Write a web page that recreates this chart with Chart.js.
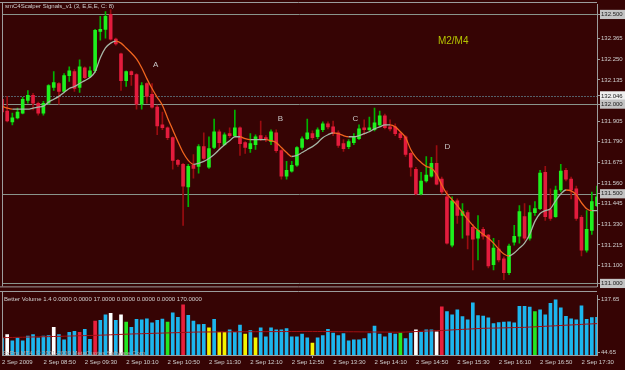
<!DOCTYPE html>
<html><head><meta charset="utf-8">
<script src="https://cdn.jsdelivr.net/npm/chart.js@4.4.0/dist/chart.umd.min.js"></script>
<style>
html,body{margin:0;padding:0;background:#360404;width:625px;height:370px;overflow:hidden}
#wrap{position:relative;width:625px;height:370px;background:#360404}
#c1{position:absolute;left:0;top:0}
#c2{position:absolute;left:0;top:291px}
</style></head><body>
<div id="wrap"><canvas id="c1" width="625" height="291"></canvas><canvas id="c2" width="625" height="79"></canvas></div>
<script>
// ---- categories: 5-minute bars, 2 Sep 2009 08:10 .. 17:45
const barTimes = [];
for (let m = 8 * 60 + 10; m <= 17 * 60 + 45; m += 5) {
  barTimes.push(String(Math.floor(m / 60)).padStart(2, '0') + ':' + String(m % 60).padStart(2, '0'));
}
const dateLabel = '2 Sep';
const firstLabel = '2 Sep 2009';
const labelEvery = 8;

// ---- price series
const opens = [132.027,131.961,131.901,131.923,131.950,132.021,132.049,132.005,131.950,132.005,
132.093,132.115,132.071,132.159,132.181,132.093,132.203,132.153,132.186,132.406,
132.417,132.500,132.362,132.280,132.131,132.181,132.164,132.000,132.115,132.054,
131.983,131.884,131.868,131.813,131.686,131.664,131.538,131.659,131.653,131.763,
131.648,131.758,131.846,131.774,131.835,131.824,131.868,131.785,131.752,131.774,
131.824,131.813,131.791,131.840,131.741,131.598,131.626,131.659,131.758,131.807,
131.835,131.818,131.857,131.890,131.873,131.840,131.780,131.763,131.785,131.807,
131.868,131.857,131.857,131.884,131.934,131.873,131.873,131.835,131.818,131.725,
131.637,131.499,131.571,131.598,131.670,131.582,131.483,131.214,131.461,131.379,
131.395,131.313,131.252,131.302,131.269,131.104,131.192,131.137,131.060,131.230,
131.263,131.373,131.252,131.395,131.417,131.620,131.412,131.373,131.521,131.631,
131.582,131.527,131.368,131.186,131.296,131.434];
const highs = [132.049,132.043,131.950,131.978,132.038,132.076,132.060,132.011,132.016,132.109,
132.181,132.120,132.170,132.208,132.192,132.247,132.208,132.208,132.417,132.489,
132.516,132.527,132.368,132.285,132.186,132.186,132.170,132.120,132.120,132.115,
131.994,131.956,131.873,131.818,131.692,131.670,131.664,131.719,131.774,131.840,
131.818,131.917,131.857,131.840,131.868,131.967,131.873,131.791,131.835,131.829,
131.906,131.824,131.857,131.857,131.747,131.681,131.681,131.763,131.818,131.917,
131.851,131.868,131.901,131.901,131.906,131.851,131.802,131.802,131.835,131.884,
131.912,131.928,131.978,131.961,131.945,131.912,131.890,131.846,131.824,131.730,
131.648,131.620,131.708,131.703,131.769,131.593,131.516,131.483,131.472,131.445,
131.406,131.329,131.379,131.313,131.274,131.252,131.241,131.148,131.219,131.324,
131.434,131.445,131.434,131.456,131.631,131.653,131.527,131.543,131.664,131.642,
131.593,131.543,131.379,131.406,131.510,131.543];
const lows = [131.928,131.901,131.884,131.917,131.945,132.005,131.967,131.939,131.939,132.000,
132.076,132.000,132.065,132.126,132.071,132.065,132.142,132.148,132.175,132.357,
132.368,132.357,132.329,132.076,132.098,132.104,131.972,131.972,132.005,131.978,
131.829,131.857,131.802,131.637,131.653,131.324,131.428,131.587,131.615,131.692,
131.642,131.752,131.747,131.769,131.813,131.818,131.714,131.725,131.730,131.747,
131.796,131.791,131.774,131.730,131.582,131.582,131.620,131.653,131.747,131.802,
131.802,131.807,131.846,131.862,131.824,131.758,131.736,131.752,131.774,131.802,
131.829,131.851,131.851,131.879,131.862,131.851,131.824,131.802,131.708,131.598,
131.494,131.494,131.565,131.593,131.549,131.499,131.219,131.203,131.335,131.252,
131.192,131.076,131.131,131.247,131.087,131.076,131.120,131.021,131.049,131.214,
131.225,131.241,131.241,131.379,131.412,131.351,131.351,131.368,131.510,131.571,
131.472,131.351,131.153,131.175,131.274,131.428];
const closes = [131.956,131.906,131.923,131.956,132.027,132.049,132.005,131.950,132.005,132.104,
132.120,132.071,132.159,132.186,132.087,132.208,132.148,132.186,132.412,132.417,
132.489,132.362,132.335,132.131,132.181,132.164,132.000,132.104,132.043,131.983,
131.879,131.868,131.813,131.686,131.664,131.543,131.653,131.642,131.763,131.697,
131.752,131.846,131.785,131.829,131.824,131.868,131.780,131.758,131.780,131.818,
131.807,131.802,131.846,131.741,131.598,131.631,131.659,131.758,131.807,131.840,
131.813,131.857,131.890,131.873,131.835,131.769,131.752,131.791,131.818,131.862,
131.857,131.868,131.895,131.934,131.868,131.862,131.835,131.813,131.719,131.648,
131.499,131.571,131.604,131.670,131.554,131.510,131.225,131.461,131.379,131.401,
131.269,131.247,131.296,131.263,131.098,131.197,131.131,131.060,131.208,131.263,
131.401,131.252,131.395,131.417,131.615,131.373,131.362,131.521,131.626,131.582,
131.521,131.362,131.186,131.302,131.456,131.483];
// smoothed signal line
const signalLine = [131.989,131.978,131.972,131.972,131.972,131.972,131.978,131.983,131.989,132.011,
132.027,132.043,132.065,132.087,132.098,132.115,132.131,132.148,132.181,132.258,
132.313,132.340,132.351,132.340,132.313,132.285,132.252,132.203,132.142,132.087,
132.038,131.994,131.923,131.857,131.791,131.730,131.686,131.664,131.670,131.681,
131.697,131.719,131.747,131.774,131.796,131.818,131.818,131.807,131.802,131.802,
131.802,131.802,131.796,131.785,131.758,131.730,131.708,131.714,131.730,131.747,
131.763,131.785,131.813,131.829,131.840,131.835,131.824,131.818,131.818,131.824,
131.835,131.846,131.862,131.873,131.884,131.884,131.873,131.846,131.813,131.747,
131.703,131.675,131.653,131.642,131.609,131.549,131.499,131.467,131.434,131.395,
131.357,131.324,131.296,131.274,131.252,131.225,131.192,131.164,131.153,131.170,
131.197,131.225,131.274,131.346,131.390,131.406,131.417,131.461,131.499,131.521,
131.516,131.494,131.450,131.417,131.406,131.406];

// ---- volume series
const volumes = [70.0,76.5,65.4,70.9,65.4,73.7,76.5,70.9,73.7,74.9,
89.2,76.5,67.0,80.4,82.0,80.4,85.8,68.2,100.3,101.4,
111.4,114.0,101.4,111.4,98.6,89.2,103.1,102.4,104.1,97.0,
101.4,103.6,98.6,114.7,106.9,129.0,110.2,100.3,94.1,94.5,
88.3,103.1,80.4,80.4,84.8,80.4,93.1,77.5,83.7,70.9,
88.2,72.5,88.2,84.8,84.8,87.0,72.5,72.5,77.5,70.9,
61.6,70.9,74.9,85.8,79.2,74.9,78.2,65.4,67.0,67.0,
69.2,78.2,91.5,77.5,72.5,79.2,77.5,79.2,69.2,79.2,
84.8,80.4,84.8,84.8,81.5,125.2,116.9,111.4,120.2,108.1,
102.4,132.3,109.7,109.1,105.8,95.8,97.5,98.6,99.1,97.0,
126.3,126.3,124.7,116.9,120.2,111.4,131.3,137.65,123.5,108.6,
104.1,102.4,126.9,103.1,106.4,106.9];
// N normal, W white, R red, G green, Y yellow (Better Volume classes)
const volClass = ('NWNNNNNNNN'+'WNNNNRNNRN'+'NWNWGNNNNN'+'NNGNNRNNNN'+'YNYYNNNYNY'+
  'NNNNNNNNNN'+'YNNNNNNNNN'+'NNNNNNNGNN'+'WNNNWRNNNN'+'NNNNNNNNNN'+'NNNGNNNNNN'+'NNNNNN').split('');
const volAverage = [71.0,71.2,71.4,71.6,71.8,72.1,72.3,72.5,72.7,72.9,
73.1,73.3,73.6,73.9,74.1,74.4,74.6,74.9,75.1,75.4,
75.7,76.1,76.4,76.8,77.1,77.5,77.8,78.0,78.3,78.6,
78.9,79.1,79.4,79.7,79.9,80.2,80.5,80.7,81.0,81.0,
81.1,81.1,81.2,81.2,81.3,81.3,81.4,81.4,81.5,81.5,
81.6,81.6,81.7,81.7,81.8,81.8,81.9,81.9,82.0,82.0,
82.0,81.9,81.8,81.8,81.7,81.6,81.5,81.4,81.4,81.3,
81.2,81.1,81.0,81.0,80.9,80.8,80.7,80.6,81.0,81.4,
81.8,82.2,82.6,83.0,83.3,83.7,84.2,84.7,85.2,85.6,
86.1,86.6,87.0,87.5,87.7,87.9,88.1,88.3,88.5,88.8,
89.0,89.2,89.7,90.1,90.6,91.1,91.5,92.0,92.5,93.0,
93.4,93.9,94.4,94.9,95.3,95.8];

// ---- axis ticks & levels
const priceTicks = [132.5,132.365,132.25,132.135,132.046,132.0,131.905,131.79,131.675,131.56,131.5,131.445,131.33,131.215,131.1,131.0];
const boxedTicks = [132.5,132.046,132.0,131.5,131.0];
const levelLines = [132.5,132.0,131.5,131.0];
const dottedLevel = 132.046;
const volTicks = [137.65,44.65];
const markers = [
  {text:'A', i:29.7, p:132.217},
  {text:'B', i:53.8, p:131.917},
  {text:'C', i:68.3, p:131.917},
  {text:'D', i:86.1, p:131.763}
];
const periodNote = {text:'M2/M4', i:87.2, p:132.348};
const mainTitle = 'smC4Scalper Signals_v1 (3, E,E,E, C: 8)';
const volTitle = 'Better Volume 1.4 0.0000 0.0000 17.0000 0.0000 0.0000 0.0000 170.0000';
const copyright = 'FxPro MT4, \u00a9 2001-2009 MetaQuotes Software Corp.';

// ---- styles
const BG = '#360404';
const FRAME = '#9c9c9c';
const TXT = '#d0d0d0';
const FONT = 'Liberation Sans, Arial, sans-serif';
const bullBody = '#1ef01e', bearBody = '#e31c3d';
const bullWick = '#00b400', bearWick = '#9a0c10';
const volColors = {N:'#1cb6ee', W:'#ffffff', R:'#e8203c', G:'#22e822', Y:'#f4f400'};

const isBull = i => closes[i] >= opens[i];

function hline(ctx, x1, x2, y) { ctx.beginPath(); ctx.moveTo(x1, y); ctx.lineTo(x2, y); ctx.stroke(); }
function vline(ctx, x, y1, y2) { ctx.beginPath(); ctx.moveTo(x, y1); ctx.lineTo(x, y2); ctx.stroke(); }

const mainOverlay = {
  id: 'mainOverlay',
  beforeDatasetsDraw(chart) {
    const {ctx, chartArea: a, scales: {y}} = chart;
    ctx.save();
    ctx.lineWidth = 1;
    ctx.strokeStyle = '#8a948c';
    levelLines.forEach(v => hline(ctx, a.left, a.right, Math.round(y.getPixelForValue(v)) + 0.5));
    ctx.strokeStyle = '#55606a';
    ctx.setLineDash([2, 1]);
    hline(ctx, a.left, a.right, Math.round(y.getPixelForValue(dottedLevel)) + 0.5);
    ctx.restore();
  },
  afterDraw(chart) {
    const {ctx, chartArea: a, scales: {x, y}} = chart;
    ctx.save();
    ctx.strokeStyle = FRAME; ctx.lineWidth = 1;
    hline(ctx, 0, a.right, 2.5);
    vline(ctx, 2.5, 2, a.bottom);
    hline(ctx, 0, a.right, a.bottom + 0.5);
    ctx.fillStyle = TXT; ctx.textBaseline = 'middle'; ctx.textAlign = 'left';
    ctx.font = '6px ' + FONT;
    ctx.fillText(mainTitle, 5, 6);
    ctx.textAlign = 'center';
    ctx.font = '8px ' + FONT; ctx.fillStyle = '#c8c8c8';
    markers.forEach(m => ctx.fillText(m.text, x.getPixelForValue(m.i), y.getPixelForValue(m.p)));
    ctx.font = '10px ' + FONT; ctx.fillStyle = '#b4c400';
    ctx.fillText(periodNote.text, x.getPixelForValue(periodNote.i), y.getPixelForValue(periodNote.p));
    ctx.restore();
  }
};

const volOverlay = {
  id: 'volOverlay',
  afterDraw(chart) {
    const {ctx, chartArea: a} = chart;
    ctx.save();
    ctx.strokeStyle = FRAME; ctx.lineWidth = 1;
    hline(ctx, 0, a.right, 0.5);
    vline(ctx, 2.5, 0, a.bottom);
    ctx.fillStyle = TXT; ctx.textBaseline = 'middle'; ctx.textAlign = 'left';
    ctx.font = '6px ' + FONT;
    ctx.fillText(volTitle, 4, 8);
    ctx.fillStyle = '#b0b0b0';
    ctx.fillText(copyright, 3, 62);
    ctx.restore();
  }
};

Chart.defaults.font.family = FONT;
Chart.defaults.font.size = 6;
Chart.defaults.color = TXT;

new Chart(document.getElementById('c1'), {
  type: 'bar',
  data: {
    labels: barTimes,
    datasets: [
      { type: 'line', data: signalLine, order: -1, borderWidth: 1.3, pointRadius: 0,
        cubicInterpolationMode: 'monotone',
        segment: { borderColor: c => c.p1.parsed.y >= c.p0.parsed.y ? '#a6b6a6' : '#f0641e' } },
      { data: opens.map((o, i) => [o, closes[i]]), order: 0, grouped: false, barThickness: 3, minBarLength: 1,
        backgroundColor: opens.map((o, i) => isBull(i) ? bullBody : bearBody), borderWidth: 0 },
      { data: lows.map((l, i) => [l, highs[i]]), order: 1, grouped: false, barThickness: 1,
        backgroundColor: lows.map((l, i) => isBull(i) ? bullWick : bearWick), borderWidth: 0 }
    ]
  },
  options: {
    responsive: false, animation: false, devicePixelRatio: 1, events: [],
    layout: { padding: { left: 2, top: 3, bottom: 2, right: 0 } },
    plugins: { legend: { display: false }, tooltip: { enabled: false } },
    scales: {
      x: { type: 'category', offset: false, display: false },
      y: {
        position: 'right', min: 130.9835, max: 132.5549,
        afterBuildTicks: s => { s.ticks = priceTicks.map(v => ({ value: v })); },
        afterFit: s => { s.width = 28; },
        grid: { drawOnChartArea: false, drawTicks: true, tickLength: 3, color: FRAME },
        border: { display: true, color: FRAME },
        ticks: {
          padding: 1, crossAlign: 'near', font: { size: 6 },
          callback: v => Number(v).toFixed(3),
          color: c => boxedTicks.includes(c.tick.value) ? '#1a1a1a' : TXT,
          showLabelBackdrop: c => boxedTicks.includes(c.tick.value),
          backdropColor: c => c.tick.value === dottedLevel ? '#eeeeee' : '#c4c4c4',
          backdropPadding: { left: 1, right: 3, top: 1, bottom: 1 }
        }
      }
    }
  },
  plugins: [mainOverlay]
});

new Chart(document.getElementById('c2'), {
  type: 'bar',
  data: {
    labels: barTimes,
    datasets: [
      { type: 'line', data: volAverage, order: -1, borderColor: '#a30f12', borderWidth: 1, pointRadius: 0 },
      { data: volumes, order: 0, barThickness: 3, borderWidth: 0,
        backgroundColor: volClass.map(k => volColors[k]) }
    ]
  },
  options: {
    responsive: false, animation: false, devicePixelRatio: 1, events: [],
    layout: { padding: { left: 2, top: 1, bottom: 0, right: 0 } },
    plugins: { legend: { display: false }, tooltip: { enabled: false } },
    scales: {
      x: {
        type: 'category', offset: false,
        afterFit: s => { s.height = 15; },
        grid: { drawOnChartArea: false, drawTicks: true, tickLength: 3,
                color: c => (c.index % labelEvery === 0) ? FRAME : 'rgba(0,0,0,0)' },
        border: { display: true, color: FRAME },
        ticks: {
          autoSkip: false, maxRotation: 0, minRotation: 0, align: 'start', padding: 1,
          font: { size: 6 }, color: TXT,
          callback: (v, i) => i % labelEvery === 0 ? (i === 0 ? firstLabel : dateLabel + ' ' + barTimes[i]) : null
        }
      },
      y: {
        position: 'right', min: 40.5, max: 145.1,
        afterBuildTicks: s => { s.ticks = volTicks.map(v => ({ value: v })); },
        afterFit: s => { s.width = 28; },
        grid: { drawOnChartArea: false, drawTicks: true, tickLength: 3, color: FRAME },
        border: { display: true, color: FRAME },
        ticks: { padding: 1, crossAlign: 'near', font: { size: 6 }, color: TXT,
                 callback: v => Number(v).toFixed(2) }
      }
    }
  },
  plugins: [volOverlay]
});
</script>
</body></html>
